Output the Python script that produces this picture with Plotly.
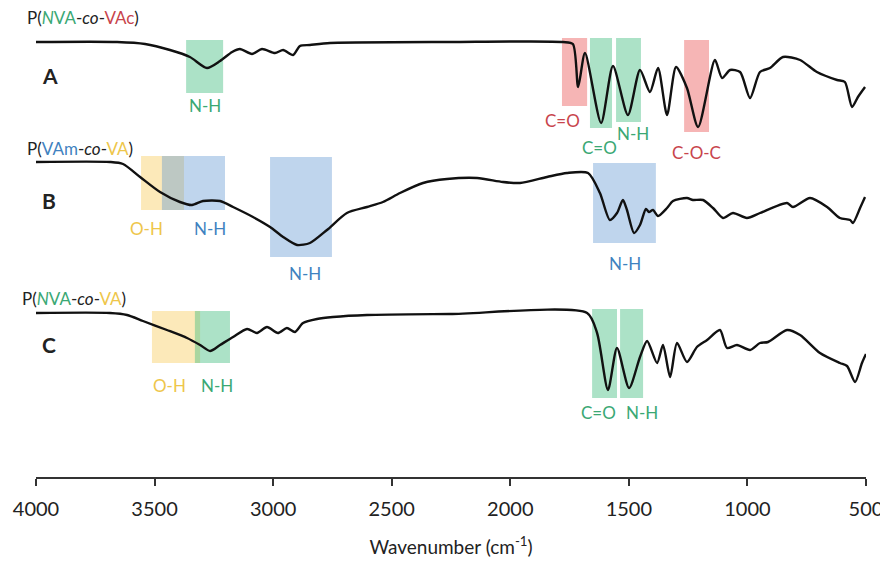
import plotly.graph_objects as go

# ---------------- data (wavenumber cm-1, offset transmittance a.u.) ----------------
wn_A = [4000, 3658, 3540, 3435, 3351, 3279, 3224, 3173, 3140, 3089, 3047, 2992, 2958, 2916, 2887,
        2845, 2760, 2254, 1778, 1736, 1714, 1685, 1617, 1567, 1504, 1453, 1411, 1377, 1339, 1301,
        1255, 1208, 1137, 1107, 1073, 1031, 989, 947, 905, 850, 778, 707, 622, 589, 559, 534, 504]
T_A = [445, 445, 443, 437, 430, 419, 426, 435, 438, 433, 438, 434, 437, 432, 441,
       442, 444, 445, 445, 443, 400, 434, 364, 421, 372, 417, 395, 419, 372, 420,
       399, 360, 427, 409, 417, 415, 389, 415, 419, 430, 427, 415, 407, 405, 380, 390, 400]

wn_B = [4000, 3688, 3633, 3561, 3477, 3393, 3342, 3296, 3224, 3169, 3085, 3013, 2958, 2899, 2845,
        2773, 2689, 2604, 2537, 2465, 2368, 2267, 2140, 2031, 1959, 1845, 1761, 1672, 1622, 1580,
        1550, 1525, 1508, 1478, 1453, 1428, 1415, 1398, 1377, 1339, 1314, 1255, 1230, 1187, 1145,
        1103, 1061, 1002, 947, 833, 808, 736, 664, 610, 567, 555, 525, 504]
T_B = [325, 325, 323, 310, 295, 285, 282, 286, 286, 280, 270, 260, 250, 242, 244,
       257, 274, 280, 285, 294, 304, 308, 309, 305, 304, 310, 314, 314, 294, 267,
       274, 287, 277, 254, 262, 278, 275, 277, 271, 279, 286, 289, 287, 287, 279,
       269, 274, 269, 274, 284, 280, 289, 280, 269, 267, 264, 279, 290]

wn_C = [4000, 3688, 3616, 3549, 3448, 3363, 3308, 3266, 3224, 3169, 3110, 3068, 3026, 2980, 2942,
        2908, 2874, 2815, 2748, 2604, 2254, 1676, 1634, 1588, 1550, 1499, 1453, 1423, 1381, 1356,
        1326, 1297, 1255, 1213, 1170, 1116, 1086, 1044, 989, 947, 913, 833, 778, 694, 610, 580,
        546, 517, 500]
T_C = [174, 174, 172, 166, 157, 149, 142, 136, 142, 150, 158, 154, 160, 154, 159,
       155, 164, 168, 170, 172, 173, 174, 154, 97, 139, 99, 130, 146, 124, 142,
       110, 144, 125, 140, 147, 157, 139, 142, 137, 144, 145, 157, 152, 134, 124, 121,
       105, 124, 133]

# band highlight boxes: (wn_high, wn_low, T_top, T_bottom, colour key)
bands = [
    (3367, 3211, 447, 394, "green"),
    (1782, 1676, 449, 381, "red"),
    (1664, 1571, 449, 359, "green"),
    (1554, 1449, 449, 365, "green"),
    (1267, 1162, 447, 355, "red"),
    (3557, 3376, 331, 277, "yellow"),
    (3469, 3203, 331, 277, "blue"),
    (3013, 2752, 330, 230, "blue"),
    (1651, 1386, 324, 244, "blue"),
    (3511, 3308, 176, 124, "yellow"),
    (3330, 3182, 176, 124, "green"),
    (1655, 1550, 178, 89, "green"),
    (1537, 1440, 178, 89, "green"),
]

# band labels: (text, wn, T, colour key)
band_labels = [
    ("N-H", 3287, 382, "green"),
    ("C=O", 1778, 367, "red"),
    ("C=O", 1622, 340, "green"),
    ("N-H", 1482, 354, "green"),
    ("C-O-C", 1213, 335, "red"),
    ("O-H", 3535, 259, "yellow"),
    ("N-H", 3266, 259, "blue"),
    ("N-H", 2866, 214, "blue"),
    ("N-H", 1516, 224, "blue"),
    ("O-H", 3435, 102, "yellow"),
    ("N-H", 3237, 102, "green"),
    ("C=O", 1630, 75, "green"),
    ("N-H", 1444, 75, "green"),
]

tick_vals = [4000, 3500, 3000, 2500, 2000, 1500, 1000, 500]
tick_text = ["4000", "3500", "3000", "2500", "2000", "1500", "1000", "500"]

fills = {
    "green": "rgba(72,190,130,0.45)",
    "red": "rgba(235,90,90,0.45)",
    "blue": "rgba(95,150,210,0.40)",
    "yellow": "rgba(248,200,80,0.40)",
}
texts = {
    "green": "#3aa874",
    "red": "#c8444c",
    "blue": "#3f82c0",
    "yellow": "#eec64a",
}

G, R, Bl, Y = texts["green"], texts["red"], texts["blue"], texts["yellow"]
def sp(t, c):
    return f"<span style='color:{c}'>{t}</span>"

titles = [
    ("P(" + sp("<i>N</i>VA", G) + "-<i>co</i>-" + sp("VAc", R) + ")", 470, -0.0133),
    ("P(" + sp("VAm", Bl) + "-<i>co</i>-" + sp("VA", Y) + ")", 339, -0.0133),
    ("P(" + sp("<i>N</i>VA", G) + "-<i>co</i>-" + sp("VA", Y) + ")", 189, -0.0193),
]
letters = [("A", 412), ("B", 287), ("C", 143)]

FONT = "Lato, 'Open Sans', sans-serif"

fig = go.Figure()
for wn, T in [(wn_A, T_A), (wn_B, T_B), (wn_C, T_C)]:
    fig.add_trace(go.Scatter(x=wn, y=T, mode="lines",
                             line=dict(color="#111111", width=2.4, shape="spline", smoothing=0.7),
                             hoverinfo="skip", showlegend=False))

for x0, x1, y0, y1, c in bands:
    fig.add_shape(type="rect", xref="x", yref="y", x0=x0, x1=x1, y0=y0, y1=y1,
                  fillcolor=fills[c], line=dict(width=0), layer="below")

for t, x, y, c in band_labels:
    fig.add_annotation(x=x, y=y, xref="x", yref="y", text=t, showarrow=False,
                       font=dict(family=FONT, size=17, color=texts[c]))

for t, y, xp in titles:
    fig.add_annotation(x=xp, y=y, xref="paper", yref="y", text=t, showarrow=False,
                       xanchor="left", font=dict(family=FONT, size=17, color="#222222"))

for t, y in letters:
    fig.add_annotation(x=0.005, y=y, xref="paper", yref="y", text=f"<b>{t}</b>", showarrow=False,
                       font=dict(family=FONT, size=21, color="#222222"))

fig.update_layout(
    width=880, height=554,
    margin=dict(l=28, r=22, t=0, b=85),
    paper_bgcolor="white", plot_bgcolor="white",
    font=dict(family=FONT, color="#222222"),
    xaxis=dict(range=[4000, 500], showgrid=False, zeroline=False,
               showline=True, linecolor="#333333", linewidth=2,
               ticks="outside", ticklen=7, tickwidth=2, tickcolor="#333333",
               ticklabelstandoff=6,
               tickvals=tick_vals, ticktext=tick_text,
               tickfont=dict(family=FONT, size=20, color="#222222"),
               title=dict(text="Wavenumber (cm<sup>-1</sup>)", standoff=22,
                          font=dict(family=FONT, size=19, color="#222222"))),
    yaxis=dict(range=[10, 479], visible=False, fixedrange=True),
)

fig.write_html("out.html")
